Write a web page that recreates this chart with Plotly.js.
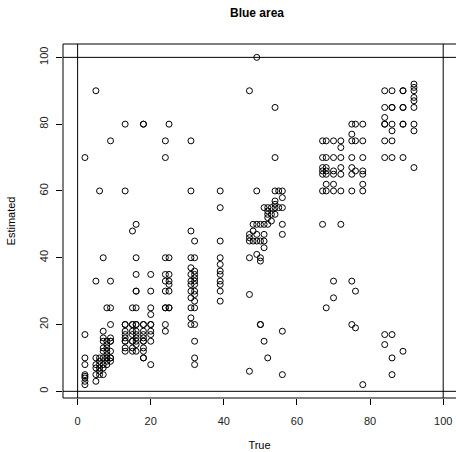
<!DOCTYPE html>
<html>
<head>
<meta charset="utf-8">
<script src="https://cdn.plot.ly/plotly-3.0.1.min.js"></script>
<style>html,body{margin:0;padding:0;background:#fff;}#chart{width:456px;height:452px;}</style>
</head>
<body>
<div id="chart"></div>
<script>
// True values (x) and the estimated values observed for each of them (y)
const trueLevels = [2, 5, 6, 7, 8, 9, 13, 15, 16, 18, 20, 24, 25, 31, 32, 39,
  47, 48, 49, 50, 51, 52, 53, 54, 55, 56, 67, 68, 70, 72, 75, 76, 78, 84, 86, 89, 92];
const estimatedByTrue = [
  [70, 17, 10, 8, 5, 4.5, 4, 3, 2],
  [90, 33, 10, 8, 7, 5, 3],
  [60, 10, 9, 8, 7, 6, 5],
  [40, 18, 16, 15, 13, 12, 10, 8, 7, 5],
  [25, 15, 14, 13, 12, 11, 10, 10, 9, 8],
  [75, 33, 25, 20, 16, 15, 15, 12, 10, 10, 9],
  [80, 60, 20, 20, 18, 17, 16, 15, 15, 13, 12],
  [48, 25, 20, 20, 18, 17, 15, 15, 13, 12],
  [50, 40, 35, 30, 30, 25, 20, 20, 18, 17, 16, 15, 14, 12],
  [80, 80, 20, 20, 18, 17, 16, 15, 15, 13, 12, 10, 10],
  [35, 30, 25, 23, 20, 20, 18, 17, 15, 8],
  [75, 70, 40, 35, 33, 30, 25, 25, 20, 18],
  [80, 40, 35, 33, 32, 30, 25, 25],
  [75, 60, 48, 40, 37, 35, 33, 32, 30, 28, 25, 22, 20],
  [45, 40, 36, 35, 34, 33, 32, 30, 29, 27, 25, 20, 15, 10, 8],
  [60, 55, 45, 40, 38, 36, 35, 33, 32, 30, 27],
  [90, 47, 46, 45, 40, 29, 6],
  [50, 48, 45],
  [100, 60, 50, 47, 45, 41],
  [50, 45, 40, 39, 20, 20],
  [55, 50, 47, 45, 43, 15],
  [55, 54, 53, 52, 50, 10],
  [55, 53, 51],
  [85, 70, 60, 57, 56, 55, 53],
  [60, 55],
  [60, 58, 55, 50, 47, 18, 5],
  [75, 70, 67, 66, 65, 60, 50],
  [75, 70, 67, 66, 65, 62, 60, 25],
  [75, 70, 66, 65, 62, 60, 33, 28],
  [75, 73, 70, 67, 65, 60, 50],
  [80, 77, 75, 70, 67, 65, 60, 33, 20],
  [80, 75, 66, 30, 19],
  [80, 75, 70, 66, 65, 62, 60, 2],
  [90, 85, 82, 80, 80, 75, 70, 17, 14],
  [90, 85, 85, 80, 78, 75, 70, 17, 10, 5],
  [90, 90, 85, 85, 80, 80, 70, 12],
  [92, 91, 90, 88, 87, 85, 80, 78, 67]
];
const tickValues = [0, 20, 40, 60, 80, 100];
const refLines = [0, 100];

const xs = [], ys = [];
trueLevels.forEach((t, i) => {
  estimatedByTrue[i].forEach(e => { xs.push(t); ys.push(e); });
});

const font = 'Liberation Sans, Arial, Helvetica, sans-serif';
const shapes = [];
// plot box (left, top, bottom; right edge falls outside the picture)
shapes.push({type:'line', xref:'paper', yref:'paper', x0:0, x1:0, y0:0, y1:1, line:{color:'black', width:1}});
shapes.push({type:'line', xref:'paper', yref:'paper', x0:0, x1:1, y0:1, y1:1, line:{color:'black', width:1}});
shapes.push({type:'line', xref:'paper', yref:'paper', x0:0, x1:1, y0:0, y1:0, line:{color:'black', width:1}});
// reference lines
refLines.forEach(v => {
  shapes.push({type:'line', xref:'x', yref:'paper', x0:v, x1:v, y0:0, y1:1, line:{color:'black', width:1}});
  shapes.push({type:'line', xref:'paper', yref:'y', x0:0, x1:1, y0:v, y1:v, line:{color:'black', width:1}});
});

const trace = {
  x: xs, y: ys, type: 'scatter', mode: 'markers',
  marker: {symbol: 'circle-open', size: 6, color: 'black', line: {width: 1, color: 'black'}},
  hoverinfo: 'x+y'
};

const layout = {
  width: 456, height: 452,
  margin: {l: 63, r: 0, t: 44, b: 54, pad: 0},
  paper_bgcolor: 'white', plot_bgcolor: 'white',
  showlegend: false,
  font: {family: font, size: 11, color: 'black'},
  title: {text: '<b>Blue area</b>', font: {family: font, size: 12, color: 'black'},
          xref: 'container', yref: 'container', x: 257/456, xanchor: 'center', y: 1 - 13/452, yanchor: 'middle'},
  xaxis: {range: [-4, 103.5], tickvals: tickValues, ticktext: tickValues.map(String),
          ticks: 'outside', ticklen: 6, tickwidth: 1, tickcolor: 'black', ticklabelstandoff: 7,
          showgrid: false, zeroline: false, showline: false, automargin: false,
          tickfont: {family: font, size: 11, color: '#222'},
          title: {text: 'True', font: {family: font, size: 11, color: 'black'}, standoff: 15}},
  yaxis: {range: [-2, 104], tickvals: tickValues, ticktext: tickValues.map(String),
          ticks: 'outside', ticklen: 6, tickwidth: 1, tickcolor: 'black', tickangle: -90, ticklabelstandoff: 4,
          showgrid: false, zeroline: false, showline: false, automargin: false,
          tickfont: {family: font, size: 11, color: '#222'},
          title: {text: 'Estimated', font: {family: font, size: 11, color: 'black'}, standoff: 19}},
  shapes: shapes
};

Plotly.newPlot('chart', [trace], layout, {displayModeBar: false, staticPlot: true});
</script>
</body>
</html>
